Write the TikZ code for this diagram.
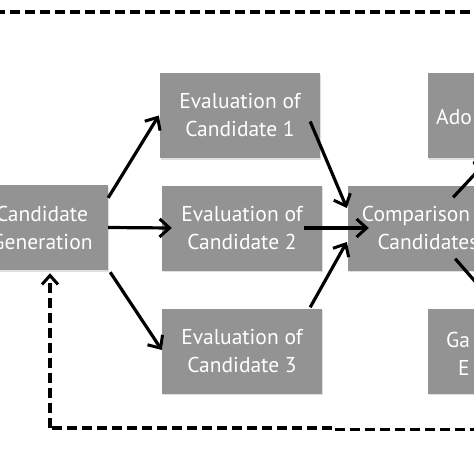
\documentclass[tikz,border=0pt]{standalone}
\usepackage{fontspec}
\setmainfont{PT Sans}
\usetikzlibrary{arrows.meta,calc,shadows}
\begin{document}
\begin{tikzpicture}[x=1pt,y=-1pt,
  box/.style={fill=boxgray, draw=none, minimum width=160pt, minimum height=85pt,
    inner sep=0pt, text=white, align=center,
    font=\fontsize{21.5}{28}\selectfont,
    drop shadow={opacity=0.25, shadow xshift=1pt, shadow yshift=-1.5pt}},
  frag/.style={text=white, inner sep=0pt, font=\fontsize{21.5}{28}\selectfont},
  arr/.style={line width=3.2pt, -{Straight Barb[length=10pt,width=18pt,line width=3pt]}},
  dashline/.style={line width=3.4pt, dash pattern=on 10pt off 5pt},
]
\definecolor{boxgray}{RGB}{147,147,147}
\useasboundingbox (0,0) rectangle (474,474);
\clip (0,0) rectangle (474,474);

\node[box, minimum width=150pt] (cg) at (33,227.5) {\hspace*{18pt}Candidate\\\hspace*{18pt}Generation};
\node[box] (e1) at (240,115.5) {Evaluation of\\Candidate 1};
\node[box] (e2) at (242,228) {Evaluation of\\Candidate 2};
\node[box] (e3) at (242,351) {Evaluation of\\Candidate 3};
\node[box] (comp) at (428,228) {Comparison of\\Candidates};
\node[box] (adopt) at (508,115.5) {};
\node[box] (ga) at (508,351) {};
\node[frag, anchor=base west] (adt) at (436,124) {Ado};
\node[frag, anchor=base west] (gat) at (446,347) {Ga};
\node[frag, anchor=base west] (et) at (458,375) {E};

% forward arrows
\draw[arr] ($(cg.north east)+(0,13)$) -- ($(e1.west)+(-1,0)$);
\draw[arr] (cg.east) -- ($(e2.west)+(10,0)$);
\draw[arr] ($(cg.south east)+(2,2)$) -- ($(e3.west)+(0,-1)$);
\draw[arr] ($(e1.east)+(-10,6)$) -- ($(comp.west)+(-1,-20)$);
\draw[arr] ($(e2.east)+(-18,0)$) -- ($(comp.west)+(21,0)$);
\draw[arr] ($(e3.north east)+(-12,-1)$) -- ($(comp.west)+(-1,14)$);
\draw[arr] ($(comp.north east)+(-55,12)$) -- ($(adopt.south west)+(60,2)$);
\draw[arr] ($(comp.south east)+(-53,-12)$) -- ($(ga.north west)+(69,-2)$);

% feedback loop
\coordinate (bl) at (50,428);
\coordinate (bstep) at (333,428);
\coordinate (br) at (480,429.5);
\coordinate (tl) at (-5,12);
\coordinate (tr) at (480,12);
\draw[dashline] (tl) -- (tr);
\draw[dashline] (br) -- ($(bstep)+(0,1.5)$) -- (bstep) -- (bl);
\draw[dashline, -{Straight Barb[length=9pt,width=16pt,line width=3pt]}]
  (bl) -- ($(bl |- cg.south)+(0,3)$);
\end{tikzpicture}
\end{document}
